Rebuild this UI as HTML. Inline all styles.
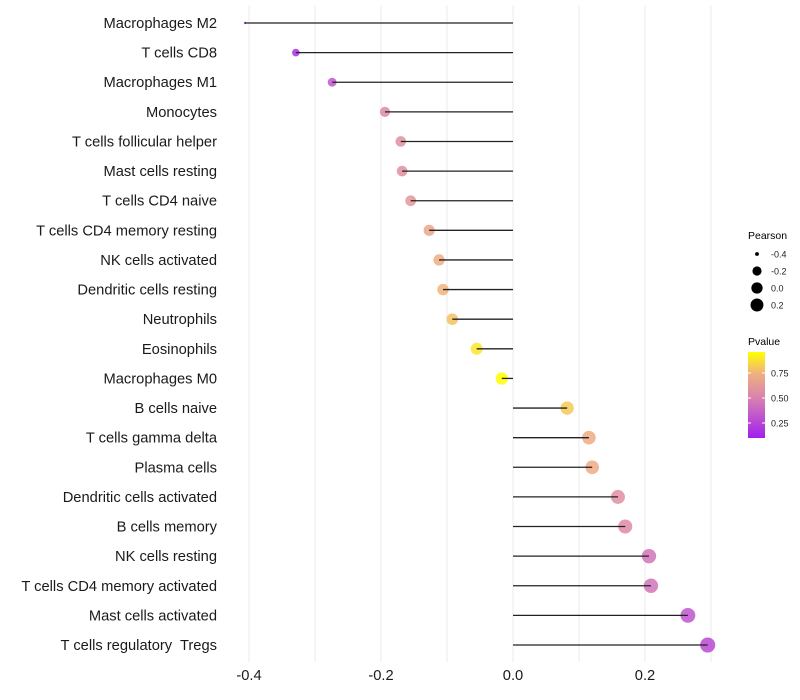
<!DOCTYPE html>
<html><head><meta charset="utf-8"><style>
body{margin:0;background:#fff;font-family:"Liberation Sans",sans-serif}
svg{display:block}
text{white-space:pre}
</style></head><body>
<svg id="chart" width="800" height="700"></svg>
<script>
const categories=["Macrophages M2","T cells CD8","Macrophages M1","Monocytes","T cells follicular helper","Mast cells resting","T cells CD4 naive","T cells CD4 memory resting","NK cells activated","Dendritic cells resting","Neutrophils","Eosinophils","Macrophages M0","B cells naive","T cells gamma delta","Plasma cells","Dendritic cells activated","B cells memory","NK cells resting","T cells CD4 memory activated","Mast cells activated","T cells regulatory  Tregs"];
const pearson=[-0.406,-0.329,-0.274,-0.194,-0.170,-0.168,-0.155,-0.127,-0.112,-0.106,-0.092,-0.055,-0.017,0.082,0.115,0.120,0.159,0.170,0.206,0.209,0.265,0.295];
const pvalues=[0.10,0.17,0.32,0.55,0.58,0.58,0.62,0.70,0.74,0.76,0.80,0.90,0.97,0.82,0.73,0.72,0.58,0.55,0.45,0.45,0.32,0.27];
const xTicks=[-0.4,-0.2,0.0,0.2];
const xGrid=[-0.4,-0.3,-0.2,-0.1,0,0.1,0.2,0.3];
const sizeLegend=[-0.4,-0.2,0.0,0.2];
const colorTicks=[0.75,0.50,0.25];

const NS="http://www.w3.org/2000/svg";
const svg=document.getElementById('chart');
function mk(t,a,p){const e=document.createElementNS(NS,t);for(const k in a)e.setAttribute(k,a[k]);(p||svg).appendChild(e);return e;}
const x=v=>513+v*660;
const y=i=>23+i*(622/21);
const rad=v=>1.2+7.3*Math.pow(Math.max(0,v+0.406),0.4);
const stops=[[0.1,[160,32,240]],[0.5,[216,128,176]],[0.75,[240,176,128]],[0.97,[255,255,0]]];
function col(p){if(p<=stops[0][0])return 'rgb('+stops[0][1]+')';for(let i=1;i<stops.length;i++){if(p<=stops[i][0]){const a=stops[i-1],b=stops[i],t=(p-a[0])/(b[0]-a[0]);return 'rgb('+a[1].map((c,j)=>Math.round(c+(b[1][j]-c)*t)).join(',')+')';}}return 'rgb(255,255,0)';}

xGrid.forEach(v=>{const g=mk('line',{x1:x(v),x2:x(v),y1:5,y2:662,stroke:'#ebebeb','stroke-width':1});

});

categories.forEach((c,i)=>{
 const t=mk('text',{x:217,y:y(i)+5,'text-anchor':'end','font-size':14.7,fill:'#1a1a1a'});t.textContent=c;
 
 
 const d=mk('circle',{cx:x(pearson[i]),cy:y(i),r:rad(pearson[i]),fill:col(pvalues[i]),'fill-opacity':0.85});
 
 
 const l=mk('line',{x1:x(0),x2:x(pearson[i]),y1:y(i),y2:y(i),stroke:'#222','stroke-width':1.3});
 
 
});
xTicks.forEach(v=>{const t=mk('text',{x:x(v),y:680,'text-anchor':'middle','font-size':14.7,fill:'#1a1a1a'});t.textContent=v.toFixed(1);

});

const lt=mk('text',{x:748,y:239,'font-size':10.5,fill:'#000'});lt.textContent='Pearson';


sizeLegend.forEach((v,i)=>{const cy=254+i*17;
 const c=mk('circle',{cx:757,cy:cy,r:rad(v)*0.9,fill:'#000'});
 
 
 const t=mk('text',{x:771,y:cy+3.5,'font-size':9,fill:'#222'});t.textContent=v.toFixed(1);
 
 });
const ct=mk('text',{x:748,y:345,'font-size':10.5,fill:'#000'});ct.textContent='Pvalue';


const defs=mk('defs',{});const gr=mk('linearGradient',{id:'g',x1:0,y1:1,x2:0,y2:0},defs);
stops.forEach(s=>mk('stop',{offset:(s[0]-0.1)/0.87,'stop-color':'rgb('+s[1]+')'},gr));
const bar=mk('rect',{x:748,y:352,width:17,height:86,fill:'url(#g)'});


colorTicks.forEach(v=>{const cy=448-v*100;
 mk('line',{x1:748,x2:751,y1:cy,y2:cy,stroke:'#fff'});mk('line',{x1:762,x2:765,y1:cy,y2:cy,stroke:'#fff'});
 const t=mk('text',{x:771,y:cy+3.5,'font-size':9,fill:'#222'});t.textContent=v.toFixed(2);
 
 });
</script>
</body></html>
